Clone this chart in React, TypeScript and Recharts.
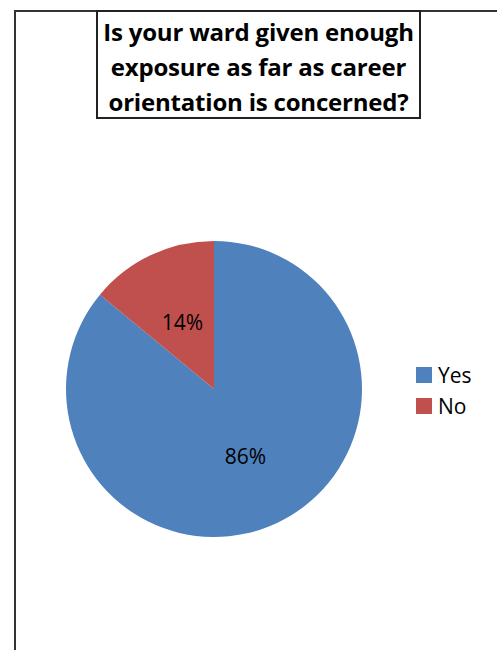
import React from 'react';
import {Cell, Legend, Pie, PieChart} from 'recharts';

const categories = ['Yes', 'No'];
const shares = [86, 14];
const colors = ['#4F81BD', '#C0504D'];

const data = categories.map((name, i) => ({name, value: shares[i]}));

const RADIAN = Math.PI / 180;

const renderLabel = (props: any) => {
  const {cx, cy, midAngle, outerRadius, value} = props;
  const r = outerRadius * 0.5;
  const x = cx + r * Math.cos(-midAngle * RADIAN);
  const y = cy + r * Math.sin(-midAngle * RADIAN);
  return (
    <text
      x={x}
      y={y}
      textAnchor='middle'
      dominantBaseline='central'
      fill='#000'
      style={{fontSize: 21, fontFamily: 'Open Sans, sans-serif'}}
    >
      {value}%
    </text>
  );
};

const renderLegend = () => (
  <div style={{fontFamily: 'Open Sans, sans-serif', fontSize: 21, color: '#000'}}>
    {data.map((d, i) => (
      <div key={d.name} style={{display: 'flex', alignItems: 'center', height: 31}}>
        <span
          style={{
            display: 'inline-block',
            width: 16,
            height: 16,
            background: colors[i],
            marginRight: 6,
          }}
        />
        {d.name}
      </div>
    ))}
  </div>
);

export default function App() {
  return (
    <div style={{position: 'fixed', left: 0, top: 0, width: 497, height: 650, background: '#fff', overflow: 'hidden'}}>
      <div
        style={{
          position: 'absolute',
          left: 14,
          top: 10,
          width: 600,
          height: 700,
          borderTop: '2px solid #333',
          borderLeft: '2px solid #333',
        }}
      />
      <div style={{position: 'absolute', left: 0, top: 0}}>
        <PieChart width={497} height={650} margin={{top: 0, right: 0, bottom: 0, left: 0}}>
          <Pie
            data={data}
            dataKey='value'
            nameKey='name'
            cx={214}
            cy={389}
            outerRadius={148}
            startAngle={90}
            endAngle={-270}
            stroke='none'
            label={renderLabel}
            labelLine={false}
            isAnimationActive={false}
          >
            {data.map((_, i) => (
              <Cell key={`cell-${i}`} fill={colors[i]} />
            ))}
          </Pie>
          <Legend
            content={renderLegend}
            layout='vertical'
            align='right'
            verticalAlign='top'
            wrapperStyle={{left: 416, top: 359, width: 80}}
          />
        </PieChart>
      </div>
      <div
        style={{
          position: 'absolute',
          left: 96,
          top: 10,
          width: 321,
          height: 103,
          border: '2px solid #222',
          background: '#fff',
          fontFamily: 'Open Sans, sans-serif',
          fontWeight: 700,
          fontSize: 24,
          lineHeight: '35px',
          paddingTop: 2,
          boxSizing: 'content-box',
          textAlign: 'center',
          color: '#000',
          whiteSpace: 'nowrap',
          letterSpacing: -0.2,
        }}
      >
        Is your ward given enough
        <br />
        exposure as far as career
        <br />
        orientation is concerned?
      </div>
    </div>
  );
}
